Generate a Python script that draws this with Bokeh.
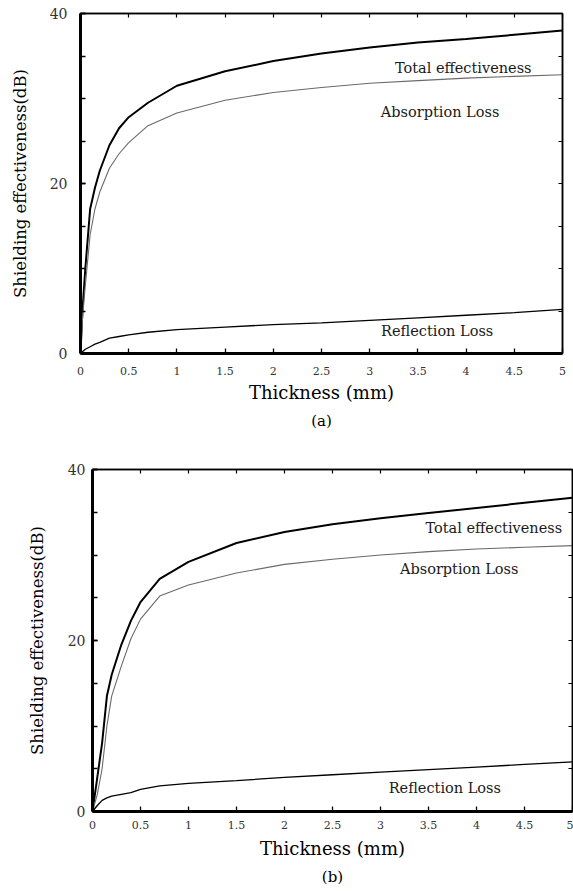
from bokeh.plotting import figure
from bokeh.layouts import column
from bokeh.models import (Range1d, FixedTicker, LinearAxis, Label, Title,
                          CustomJSTickFormatter)
from bokeh.embed import file_html
from bokeh.resources import INLINE

# ---------------- data ----------------
# panel (a)
thick_a = [0, 0.02, 0.05, 0.1, 0.15, 0.2, 0.3, 0.4, 0.5, 0.7, 1.0, 1.5, 2.0, 2.5, 3.0, 3.5, 4.0, 4.5, 5.0]
total_a = [0, 5, 10, 17, 19.5, 21.5, 24.5, 26.5, 27.8, 29.5, 31.5, 33.2, 34.4, 35.3, 36.0, 36.6, 37.0, 37.5, 38.0]
absorb_a = [0, 4, 8, 14, 17, 19, 21.8, 23.5, 24.8, 26.8, 28.3, 29.8, 30.7, 31.3, 31.8, 32.1, 32.4, 32.6, 32.8]
refl_a = [0, 0.2, 0.5, 0.8, 1.1, 1.3, 1.8, 2.0, 2.2, 2.5, 2.8, 3.1, 3.4, 3.6, 3.9, 4.2, 4.5, 4.8, 5.2]

# panel (b)
thick_b = [0, 0.05, 0.1, 0.15, 0.2, 0.3, 0.4, 0.5, 0.7, 1.0, 1.5, 2.0, 2.5, 3.0, 3.5, 4.0, 4.5, 5.0]
total_b = [0, 4, 8, 13.5, 16, 19.5, 22.3, 24.5, 27.2, 29.2, 31.4, 32.7, 33.6, 34.3, 34.9, 35.5, 36.1, 36.7]
absorb_b = [0, 2, 5, 10, 13.5, 17, 20.2, 22.5, 25.2, 26.5, 27.9, 28.9, 29.5, 30.0, 30.4, 30.7, 30.9, 31.1]
refl_b = [0, 0.7, 1.3, 1.6, 1.8, 2.0, 2.2, 2.6, 3.0, 3.3, 3.6, 4.0, 4.3, 4.6, 4.9, 5.2, 5.5, 5.8]

x_ticks = [0, 0.5, 1, 1.5, 2, 2.5, 3, 3.5, 4, 4.5, 5]
y_major = [0, 20, 40]
y_minor = [0, 5, 10, 15, 20, 25, 30, 35, 40]

series_names = ["Total effectiveness", "Absorption Loss", "Reflection Loss"]
x_title = "Thickness (mm)"
y_title = "Shielding effectiveness(dB)"
captions = ["(a)", "(b)"]

FONT = "DejaVu Serif"


def make_panel(xs, tot, ab, rf, caption, label_pos, width, height,
               b_left, b_top, b_right, b_bottom, ytick_standoff, ylab_standoff,
               xtick_standoff, xlab_standoff, cap_standoff):
    p = figure(width=width, height=height, output_backend="svg",
               toolbar_location=None,
               x_range=Range1d(0, 5), y_range=Range1d(0, 40))
    p.frame_align = False
    p.min_border_left = b_left
    p.min_border_top = b_top
    p.min_border_right = b_right
    p.min_border_bottom = b_bottom
    p.background_fill_color = "white"
    p.border_fill_color = "white"
    p.outline_line_color = "black"
    p.outline_line_width = 1.5
    p.grid.visible = False

    # curves
    p.line(xs, tot, line_color="black", line_width=2)
    p.line(xs, ab, line_color="#6a6a6a", line_width=1.1)
    p.line(xs, rf, line_color="black", line_width=1.3)

    # x axis (below)
    xa = p.xaxis[0]
    xa.ticker = FixedTicker(ticks=x_ticks)
    xa.formatter = CustomJSTickFormatter(code="return String(tick);")
    xa.major_tick_in = 5
    xa.major_tick_out = 0
    xa.minor_tick_in = 0
    xa.minor_tick_out = 0
    xa.axis_line_width = 3
    xa.major_tick_line_width = 1.3
    xa.major_label_standoff = xtick_standoff
    xa.major_label_text_font = FONT
    xa.major_label_text_font_size = "11px"
    xa.major_label_text_color = "#333333"
    xa.axis_label = x_title
    xa.axis_label_standoff = xlab_standoff
    xa.axis_label_text_font = FONT
    xa.axis_label_text_font_size = "18px"
    xa.axis_label_text_font_style = "normal"
    xa.axis_label_text_color = "black"

    # y axis (left)
    ya = p.yaxis[0]
    ya.ticker = FixedTicker(ticks=y_major, minor_ticks=y_minor)
    ya.major_tick_in = 5
    ya.major_tick_out = 0
    ya.minor_tick_in = 5
    ya.minor_tick_out = 0
    ya.axis_line_width = 3
    ya.major_tick_line_width = 1.3
    ya.minor_tick_line_width = 1.3
    ya.major_label_standoff = ytick_standoff
    ya.major_label_text_font = FONT
    ya.major_label_text_font_size = "14px"
    ya.major_label_text_color = "#333333"
    ya.major_label_orientation = "horizontal"
    ya.axis_label = y_title
    ya.axis_label_standoff = ylab_standoff
    ya.axis_label_text_font = FONT
    ya.axis_label_text_font_size = "16.5px"
    ya.axis_label_text_font_style = "normal"
    ya.axis_label_text_color = "black"

    # mirrored tick axes (no labels)
    top = LinearAxis(ticker=FixedTicker(ticks=[], minor_ticks=x_ticks))
    right = LinearAxis(ticker=FixedTicker(ticks=[], minor_ticks=y_minor))
    for ax in (top, right):
        ax.minor_tick_in = 4
        ax.minor_tick_out = 0
        ax.major_tick_in = 0
        ax.major_tick_out = 0
        ax.major_label_standoff = 0
        ax.axis_line_width = 1.5
        ax.minor_tick_line_width = 1.2
    p.add_layout(top, "above")
    p.add_layout(right, "right")

    # curve labels
    for name, (lx, ly) in zip(series_names, label_pos):
        p.add_layout(Label(x=lx, y=ly, text=name, text_font=FONT,
                           text_font_size="14.5px", text_color="#1a1a1a",
                           text_align="center", text_baseline="middle"))

    # caption
    t = Title(text=caption, align="center", text_font=FONT,
              text_font_size="15px", text_font_style="normal",
              text_color="black", standoff=cap_standoff)
    p.add_layout(t, "below")
    return p


p1 = make_panel(thick_a, total_a, absorb_a, refl_a, captions[0],
                [(3.97, 33.6), (3.73, 28.4), (3.7, 2.6)],
                width=573, height=440, b_left=80, b_top=13, b_right=11,
                b_bottom=87, ytick_standoff=13, ylab_standoff=17,
                xtick_standoff=13, xlab_standoff=4, cap_standoff=8)

p2 = make_panel(thick_b, total_b, absorb_b, refl_b, captions[1],
                [(4.18, 33.2), (3.82, 28.4), (3.67, 2.8)],
                width=573, height=451, b_left=92, b_top=29, b_right=1,
                b_bottom=80, ytick_standoff=7, ylab_standoff=18,
                xtick_standoff=9, xlab_standoff=6, cap_standoff=9)

layout = column(p1, p2, spacing=0)
open("out.html", "w").write(file_html(layout, INLINE))
